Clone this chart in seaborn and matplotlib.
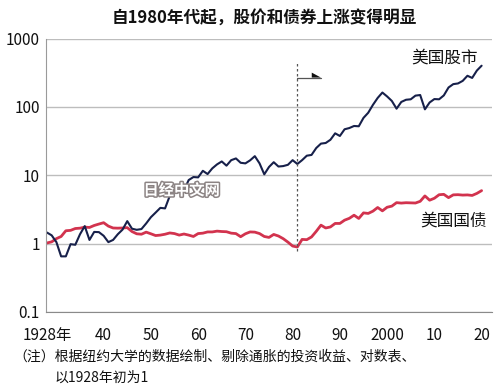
import numpy as np
import pandas as pd
import matplotlib
matplotlib.use("Agg")
import matplotlib.pyplot as plt
import matplotlib.patheffects as pe
from matplotlib.ticker import FixedLocator, NullLocator
import seaborn as sns

# ============================================
# DATA (real value of 1 invested at start of 1928)
# ============================================

years = list(range(1928, 2021))

stocks = [
    1.45, 1.32, 1.05, 0.65, 0.65, 0.98, 0.96, 1.37, 1.80, 1.13,   # 1928-37
    1.48, 1.47, 1.30, 1.05, 1.13, 1.37, 1.60, 2.13, 1.65, 1.59,   # 1938-47
    1.63, 1.97, 2.43, 2.84, 3.33, 3.27, 5.0, 6.6, 6.9, 6.0,       # 1948-57
    8.5, 9.4, 9.3, 11.6, 10.4, 12.6, 14.4, 15.9, 13.8, 16.6,      # 1958-67
    17.6, 15.2, 14.9, 16.5, 19.0, 14.9, 10.3, 13.2, 15.5, 13.4,   # 1968-77
    13.6, 14.2, 16.6, 14.6, 16.6, 19.3, 19.8, 25.0, 29.0, 29.6,   # 1978-87
    33.0, 41.0, 37.5, 47.0, 49.0, 52.5, 52.0, 69.0, 82.0, 107,    # 1988-97
    135, 162, 142, 122, 94, 118, 127, 129, 146, 149,              # 1998-2007
    92, 116, 130, 129, 147, 192, 215, 220, 240, 285,              # 2008-17
    265, 340, 400,                                                # 2018-20
]

bonds = [
    1.02, 1.06, 1.18, 1.27, 1.54, 1.56, 1.66, 1.68, 1.74, 1.72,   # 1928-37
    1.84, 1.93, 2.02, 1.80, 1.69, 1.68, 1.69, 1.71, 1.50, 1.39,   # 1938-47
    1.37, 1.47, 1.39, 1.31, 1.33, 1.37, 1.43, 1.40, 1.33, 1.38,   # 1948-57
    1.33, 1.27, 1.40, 1.42, 1.48, 1.48, 1.52, 1.50, 1.49, 1.42,   # 1958-67
    1.40, 1.26, 1.39, 1.48, 1.47, 1.40, 1.27, 1.23, 1.36, 1.29,   # 1968-77
    1.18, 1.05, 0.92, 0.89, 1.15, 1.14, 1.25, 1.51, 1.86, 1.69,   # 1978-87
    1.75, 1.97, 1.97, 2.20, 2.34, 2.60, 2.33, 2.81, 2.76, 2.98,   # 1988-97
    3.37, 3.01, 3.40, 3.53, 3.97, 3.91, 3.96, 3.94, 3.92, 4.15,   # 1998-2007
    4.98, 4.31, 4.60, 5.18, 5.25, 4.70, 5.16, 5.19, 5.12, 5.15,   # 2008-17
    5.06, 5.42, 5.95,                                             # 2018-20
]

x_tick_pos = [1928, 1940, 1950, 1960, 1970, 1980, 1990, 2000, 2010, 2020]
x_tick_labels = ['1928年', '40', '50', '60', '70', '80', '90', '2000', '10', '20']
y_ticks = [0.1, 1, 10, 100, 1000]
y_tick_labels = ['0.1', '1', '10', '100', '1000']

marker_year = 1981

df = pd.DataFrame({'Year': years, 'Stocks': stocks, 'Bonds': bonds})

NAVY = '#17204a'
RED = '#d2334e'

sns.set_style("white")
plt.rcParams['font.family'] = ['Noto Sans CJK SC', 'DejaVu Sans']

fig = plt.figure(figsize=(5, 3.87), dpi=100)
ax = fig.add_axes([0.092, 0.194, 0.892, 0.7065])

sns.lineplot(data=df, x='Year', y='Bonds', color=RED, linewidth=2.0, ax=ax)
sns.lineplot(data=df, x='Year', y='Stocks', color=NAVY, linewidth=1.5, ax=ax)

ax.set_yscale('log')
ax.set_ylim(0.1, 1000)
ax.set_xlim(1927.8, 2022.2)

ax.yaxis.set_major_locator(FixedLocator(y_ticks))
ax.yaxis.set_minor_locator(NullLocator())
ax.set_yticklabels(y_tick_labels)
ax.set_xticks(x_tick_pos)
ax.set_xticklabels(x_tick_labels)
ax.xaxis.set_minor_locator(FixedLocator(years + [2021, 2022]))

ax.grid(axis='y', color='#bdbdbd', linewidth=1.0)
ax.set_axisbelow(True)
for s in ['top', 'right']:
    ax.spines[s].set_visible(False)
ax.spines['left'].set_color('#9a9a9a')
ax.spines['bottom'].set_color('#8a8a8a')

ax.tick_params(axis='y', which='major', direction='out', length=3,
               color='#9a9a9a', pad=1.5, labelsize=11, labelcolor='#111111')
ax.tick_params(axis='x', which='major', direction='in', length=5,
               color='#8a8a8a', pad=11, labelsize=11, labelcolor='#111111')
ax.tick_params(axis='x', which='minor', direction='in', length=3,
               color='#8a8a8a', width=0.6)
ax.set_xlabel('')
ax.set_ylabel('')

# 1981 marker and arrow
ax.vlines(marker_year, 0.77, 474, colors='#555555', linewidth=0.9,
          linestyles=(0, (2, 2)))
ax.plot([marker_year, 1986], [268, 268], color='#555555', linewidth=0.9)
ax.fill([1984.05, 1986, 1984.05], [268, 268, 317], color='#111111', lw=0)

# labels
ax.text(2019.2, 519, '美国股市', ha='right', va='center', fontsize=12,
        color='#111111')
ax.text(2021, 2.1, '美国国债', ha='right', va='center', fontsize=12,
        color='#111111')
ax.text(1956.5, 6.04, '日经中文网', ha='center', va='center', fontsize=11,
        weight='bold', color='white',
        path_effects=[pe.withStroke(linewidth=2.2, foreground='#8c8484')])

fig.text(264 / 500, 1 - 19 / 387, '自1980年代起，股价和债券上涨变得明显',
         ha='center', va='center', fontsize=12, weight='bold', color='#111111')
fig.text(13 / 500, 1 - 357 / 387,
         '（注）根据纽约大学的数据绘制、剔除通胀的投资收益、对数表、',
         ha='left', va='center', fontsize=10, color='#111111')
fig.text(55 / 500, 1 - 378 / 387, '以1928年初为1',
         ha='left', va='center', fontsize=10, color='#111111')

fig.savefig('out.png', dpi=100)
